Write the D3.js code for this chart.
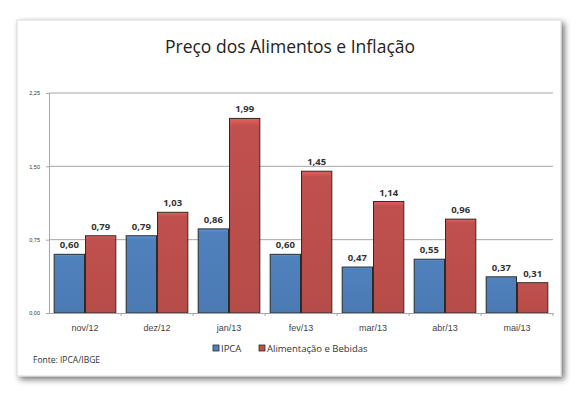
<!DOCTYPE html>
<html>
<head>
<meta charset="utf-8">
<script src="https://cdn.jsdelivr.net/npm/d3@7"></script>
<style>
  body { margin: 0; background: #fff; }
  svg { display: block; font-family: "Open Sans", "Noto Sans", sans-serif; }
</style>
</head>
<body>
<svg id="chart" width="585" height="396"></svg>
<script>
var months = ["nov/12", "dez/12", "jan/13", "fev/13", "mar/13", "abr/13", "mai/13"];
var ipca = [0.60, 0.79, 0.86, 0.60, 0.47, 0.55, 0.37];
var alimentos = [0.79, 1.03, 1.99, 1.45, 1.14, 0.96, 0.31];
var yTicks = [0, 0.75, 1.5, 2.25];
var seriesNames = ["IPCA", "Alimentação e Bebidas"];
var blueColor = "#4f81bd";
var redColor = "#c0504d";

var svg = d3.select("#chart");
var fmt = function (v) { return v.toFixed(2).replace(".", ","); };

var defs = svg.append("defs");
var filter = defs.append("filter").attr("id", "shadow")
    .attr("x", "-5%").attr("y", "-5%").attr("width", "115%").attr("height", "120%");
filter.append("feGaussianBlur").attr("in", "SourceAlpha").attr("stdDeviation", 3);
filter.append("feOffset").attr("dx", 3).attr("dy", 3).attr("result", "b");
filter.append("feComponentTransfer").append("feFuncA").attr("type", "linear").attr("slope", 0.55);
var merge = filter.append("feMerge");
merge.append("feMergeNode");
merge.append("feMergeNode").attr("in", "SourceGraphic");

function gradient(id, color) {
    var g = defs.append("linearGradient").attr("id", id)
        .attr("x1", 0).attr("y1", 0).attr("x2", 0).attr("y2", 1);
    g.append("stop").attr("offset", "0%").attr("stop-color", d3.color(color).brighter(0.5));
    g.append("stop").attr("offset", "4%").attr("stop-color", color);
    g.append("stop").attr("offset", "100%").attr("stop-color", d3.color(color).darker(0.15));
}
gradient("gBlue", blueColor);
gradient("gRed", redColor);

// card
svg.append("rect")
    .attr("x", 17).attr("y", 20).attr("width", 544).attr("height", 356)
    .attr("fill", "#fff").attr("stroke", "#d8d8d8")
    .attr("filter", "url(#shadow)");

svg.append("text")
    .attr("x", 290).attr("y", 53)
    .attr("text-anchor", "middle")
    .attr("font-size", 17.5).attr("fill", "#222")
    .text("Preço dos Alimentos e Inflação");

var margin = { left: 49, right: 553, top: 93, bottom: 313 };

var x = d3.scaleBand().domain(months).range([margin.left, margin.right]).paddingInner(0.13).paddingOuter(0.065);
var xs = d3.scaleBand().domain([0, 1]).range([0, x.bandwidth()]);
var y = d3.scaleLinear().domain([0, 2.25]).range([margin.bottom, margin.top]);

// gridlines
svg.append("g")
    .selectAll("line")
    .data(yTicks.slice(1))
    .enter().append("line")
    .attr("x1", margin.left).attr("x2", margin.right)
    .attr("y1", function (d) { return y(d); })
    .attr("y2", function (d) { return y(d); })
    .attr("stroke", "#a6a6a6").attr("stroke-width", 1);

// y axis
var yAxis = svg.append("g")
    .attr("transform", "translate(" + margin.left + ",0)")
    .call(d3.axisLeft(y).tickValues(yTicks).tickFormat(fmt).tickSize(3).tickPadding(6));
yAxis.select(".domain").attr("stroke", "#a6a6a6");
yAxis.selectAll(".tick line").attr("stroke", "#a6a6a6");
yAxis.selectAll("text").attr("font-size", 5.5).attr("fill", "#333");

// bars
var data = months.map(function (m, i) {
    return { month: m, values: [ipca[i], alimentos[i]] };
});
var groups = svg.append("g").selectAll("g")
    .data(data)
    .enter().append("g")
    .attr("transform", function (d) { return "translate(" + x(d.month) + ",0)"; });

groups.selectAll("rect")
    .data(function (d) { return d.values; })
    .enter().append("rect")
    .attr("x", function (d, i) { return xs(i) + 0.5; })
    .attr("y", function (d) { return y(d); })
    .attr("width", xs.bandwidth() - 1)
    .attr("height", function (d) { return y(0) - y(d); })
    .attr("fill", function (d, i) { return i === 0 ? "url(#gBlue)" : "url(#gRed)"; })
    .attr("stroke", "#2b2b2b").attr("stroke-width", 1);

groups.selectAll("text")
    .data(function (d) { return d.values; })
    .enter().append("text")
    .attr("x", function (d, i) { return xs(i) + xs.bandwidth() / 2; })
    .attr("y", function (d) { return y(d) - 6; })
    .attr("text-anchor", "middle")
    .attr("font-size", 9.5).attr("font-weight", "bold").attr("fill", "#333")
    .text(fmt);

// x axis
var xAxis = svg.append("g")
    .attr("transform", "translate(0," + margin.bottom + ")")
    .call(d3.axisBottom(x).tickSize(0).tickPadding(12));
xAxis.select(".domain").attr("stroke", "#a6a6a6");
xAxis.selectAll("text").attr("font-size", 9).attr("fill", "#444");
svg.append("g").selectAll("line")
    .data(months.slice(1).concat(["end"]))
    .enter().append("line")
    .attr("x1", function (d, i) { return i < months.length - 1 ? x(d) - x.step() * x.paddingInner() / 2 : margin.right; })
    .attr("x2", function (d, i) { return i < months.length - 1 ? x(d) - x.step() * x.paddingInner() / 2 : margin.right; })
    .attr("y1", margin.bottom).attr("y2", margin.bottom + 3)
    .attr("stroke", "#a6a6a6");

// legend
var legend = svg.append("g").attr("transform", "translate(213,349)");
var legendX = [0, 46];
var legendItem = legend.selectAll("g")
    .data(seriesNames)
    .enter().append("g")
    .attr("transform", function (d, i) { return "translate(" + legendX[i] + ",0)"; });
legendItem.append("rect")
    .attr("x", 0).attr("y", -4).attr("width", 6).attr("height", 6)
    .attr("fill", function (d, i) { return i === 0 ? blueColor : redColor; })
    .attr("stroke", "#2b2b2b").attr("stroke-width", 0.8);
legendItem.append("text")
    .attr("x", 8).attr("y", 2.5)
    .attr("font-size", 9.5).attr("fill", "#333")
    .text(function (d) { return d; });

svg.append("text")
    .attr("x", 33).attr("y", 363)
    .attr("font-size", 8.5).attr("fill", "#333")
    .text("Fonte: IPCA/IBGE");
</script>
</body>
</html>
